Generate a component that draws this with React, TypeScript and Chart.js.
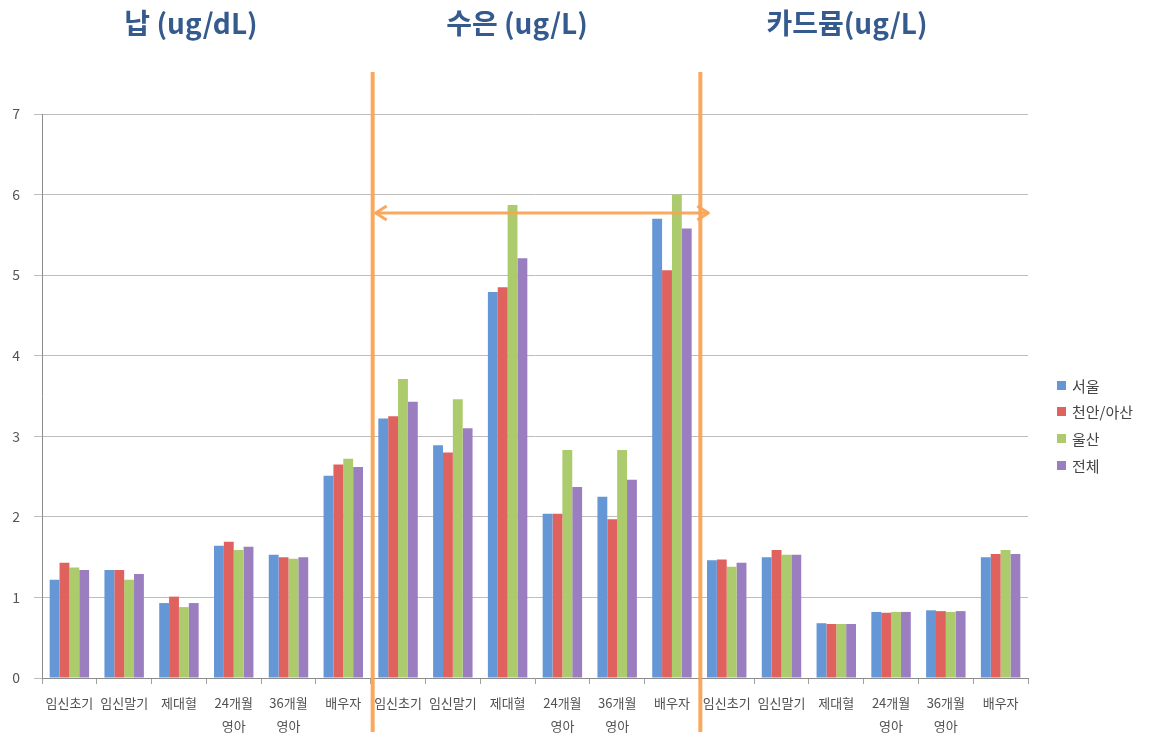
import React, { useEffect, useRef } from "react";
import { Chart, registerables } from "chart.js";
Chart.register(...registerables);

const categories: string[][] = [
  ["임신초기"], ["임신말기"], ["제대혈"], ["24개월", "영아"], ["36개월", "영아"], ["배우자"],
  ["임신초기"], ["임신말기"], ["제대혈"], ["24개월", "영아"], ["36개월", "영아"], ["배우자"],
  ["임신초기"], ["임신말기"], ["제대혈"], ["24개월", "영아"], ["36개월", "영아"], ["배우자"],
];
const seriesNames = ["서울", "천안/아산", "울산", "전체"];
const seoul = [1.22, 1.34, 0.93, 1.64, 1.53, 2.51, 3.22, 2.89, 4.79, 2.04, 2.25, 5.70, 1.46, 1.50, 0.68, 0.82, 0.84, 1.50];
const cheonan = [1.43, 1.34, 1.01, 1.69, 1.50, 2.65, 3.25, 2.80, 4.85, 2.04, 1.97, 5.06, 1.47, 1.59, 0.67, 0.81, 0.83, 1.54];
const ulsan = [1.37, 1.22, 0.88, 1.59, 1.48, 2.72, 3.71, 3.46, 5.87, 2.83, 2.83, 6.00, 1.38, 1.53, 0.67, 0.82, 0.82, 1.59];
const total = [1.34, 1.29, 0.93, 1.63, 1.50, 2.62, 3.43, 3.10, 5.21, 2.37, 2.46, 5.58, 1.43, 1.53, 0.67, 0.82, 0.83, 1.54];
const colors = ["#6596d6", "#df625e", "#abcb6c", "#9a7ec0"];
const titles = ["납 (ug/dL)", "수은 (ug/L)", "카드뮴(ug/L)"];
const yTicksMax = 7;

const FONT = "'Noto Sans CJK KR', 'Noto Sans', sans-serif";
const ORANGE = "rgba(249, 164, 86, 0.95)";

const orangePlugin = {
  id: "orangeMarks",
  afterDatasetsDraw(chart: any) {
    const xs = chart.scales.x;
    const ys = chart.scales.y;
    const ctx = chart.ctx;
    const b1 = (xs.getPixelForTick(5) + xs.getPixelForTick(6)) / 2 + 2;
    const b2 = (xs.getPixelForTick(11) + xs.getPixelForTick(12)) / 2 + 1;
    const top = chart.chartArea.top - 42;
    const bottom = chart.chartArea.bottom + 54;
    ctx.save();
    ctx.strokeStyle = ORANGE;
    ctx.lineWidth = 4;
    ctx.lineCap = "butt";
    ctx.beginPath();
    ctx.moveTo(b1, top);
    ctx.lineTo(b1, bottom);
    ctx.moveTo(b2, top);
    ctx.lineTo(b2, bottom);
    ctx.stroke();
    // double arrow
    const ay = ys.getPixelForValue(5.77);
    const ax1 = b1 + 3;
    const ax2 = b2 + 8;
    ctx.lineWidth = 3;
    ctx.lineJoin = "round";
    ctx.beginPath();
    ctx.moveTo(ax1, ay);
    ctx.lineTo(ax2, ay);
    ctx.stroke();
    ctx.beginPath();
    ctx.moveTo(ax1 + 11, ay - 7);
    ctx.lineTo(ax1, ay);
    ctx.lineTo(ax1 + 11, ay + 7);
    ctx.moveTo(ax2 - 11, ay - 7);
    ctx.lineTo(ax2, ay);
    ctx.lineTo(ax2 - 11, ay + 7);
    ctx.stroke();
    ctx.restore();
  },
};

export default function App() {
  const ref = useRef<HTMLCanvasElement>(null);
  useEffect(() => {
    if (!ref.current) return;
    const data = [seoul, cheonan, ulsan, total];
    const chart = new Chart(ref.current, {
      type: "bar",
      data: {
        labels: categories,
        datasets: seriesNames.map((n, i) => ({
          label: n,
          data: data[i],
          backgroundColor: colors[i],
          borderWidth: 0,
          categoryPercentage: 0.72,
          barPercentage: 1.0,
        })),
      },
      options: {
        animation: false,
        responsive: false,
        maintainAspectRatio: false,
        layout: { padding: { left: 0, right: 125, top: 114, bottom: 0 } },
        plugins: { legend: { display: false }, tooltip: { enabled: false } },
        scales: {
          x: {
            grid: { display: true, drawOnChartArea: false, drawTicks: true, tickLength: 6, color: "#a0a0a0", offset: true },
            border: { color: "#8c8c8c" },
            ticks: {
              autoSkip: false,
              maxRotation: 0,
              minRotation: 0,
              padding: 7,
              color: "#505050",
              font: { family: FONT, size: 13, lineHeight: 1.8 },
            },
            afterFit: (s: any) => { s.height = 72; },
          },
          y: {
            min: 0,
            max: yTicksMax,
            ticks: { stepSize: 1, padding: 14, color: "#555", font: { family: FONT, size: 14 } },
            grid: { color: "#bdbdbd", tickLength: 8, drawTicks: true },
            border: { color: "#8c8c8c" },
            afterFit: (s: any) => { s.width = 42; },
          },
        },
      },
      plugins: [orangePlugin],
    });
    return () => chart.destroy();
  }, []);

  const titleX = [191, 517, 847];
  const legendY = [385, 411, 438, 465];
  return (
    <div style={{ position: "absolute", left: 0, top: 0, width: 1153, height: 750, background: "#fff", overflow: "hidden" }}>
      <canvas ref={ref} width={1153} height={750} style={{ position: "absolute", left: 0, top: 0 }} />
      {titles.map((t, i) => (
        <div key={t} style={{ position: "absolute", left: titleX[i], top: 4, transform: "translateX(-50%)", font: `bold 28px ${FONT}`, color: "#345a8e", whiteSpace: "nowrap", lineHeight: "36px" }}>
          {t}
        </div>
      ))}
      {seriesNames.map((n, i) => (
        <div key={n} style={{ position: "absolute", left: 1057, top: legendY[i] - 11, height: 22, display: "flex", alignItems: "center", font: `15px ${FONT}`, color: "#454545", whiteSpace: "nowrap" }}>
          <span style={{ display: "inline-block", width: 9, height: 9, background: colors[i], marginRight: 6 }} />
          {n}
        </div>
      ))}
    </div>
  );
}
